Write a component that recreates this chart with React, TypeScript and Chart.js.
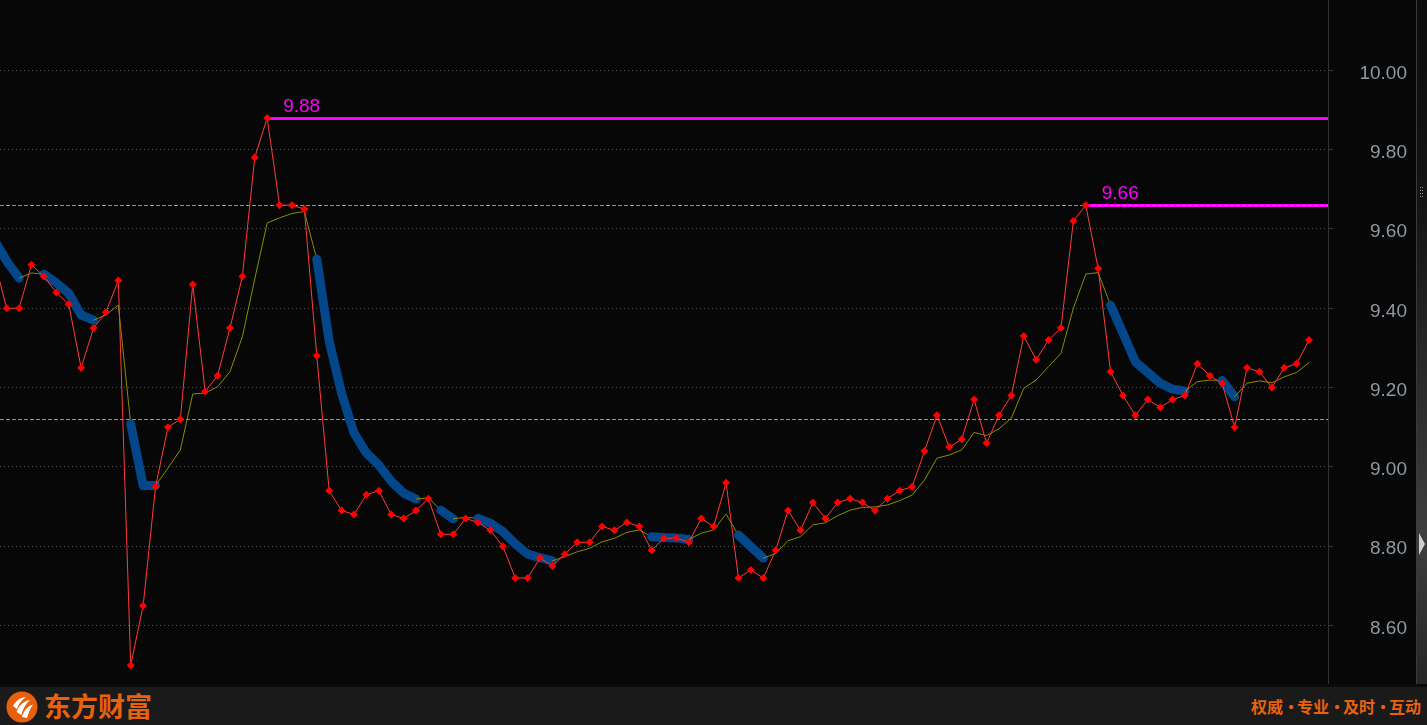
import React, { useEffect, useRef } from 'react';
import { Chart, registerables } from 'chart.js';

Chart.register(...registerables);

// index of the first value (one session lies just off the left edge)
const FIRST_INDEX = -1;

// red series (price with diamond markers)
const closeValues = [
  9.52, 9.40, 9.40, 9.51, 9.48, 9.44, 9.41, 9.25, 9.35, 9.39,
  9.47, 8.50, 8.65, 8.95, 9.10, 9.12, 9.46, 9.19, 9.23, 9.35,
  9.48, 9.78, 9.88, 9.66, 9.66, 9.65, 9.28, 8.94, 8.89, 8.88,
  8.93, 8.94, 8.88, 8.87, 8.89, 8.92, 8.83, 8.83, 8.87, 8.86,
  8.84, 8.80, 8.72, 8.72, 8.77, 8.75, 8.78, 8.81, 8.81, 8.85,
  8.84, 8.86, 8.85, 8.79, 8.82, 8.82, 8.81, 8.87, 8.85, 8.96,
  8.72, 8.74, 8.72, 8.79, 8.89, 8.84, 8.91, 8.87, 8.91, 8.92,
  8.91, 8.89, 8.92, 8.94, 8.95, 9.04, 9.13, 9.05, 9.07, 9.17,
  9.06, 9.13, 9.18, 9.33, 9.27, 9.32, 9.35, 9.62, 9.66, 9.50,
  9.24, 9.18, 9.13, 9.17, 9.15, 9.17, 9.18, 9.26, 9.23, 9.21,
  9.10, 9.25, 9.24, 9.20, 9.25, 9.26, 9.32,
];

// average line (thin olive when rising, thick blue while falling)
const avgValues = [
  9.572, 9.519, 9.476, 9.489, 9.486, 9.464, 9.438, 9.383, 9.370, 9.383,
  9.408, 9.108, 8.953, 8.953, 8.997, 9.043, 9.184, 9.186, 9.202, 9.240,
  9.328, 9.474, 9.615, 9.628, 9.639, 9.644, 9.524, 9.317, 9.186, 9.086,
  9.035, 9.005, 8.964, 8.934, 8.919, 8.922, 8.891, 8.869, 8.873, 8.870,
  8.858, 8.837, 8.806, 8.780, 8.771, 8.763, 8.774, 8.786, 8.795, 8.811,
  8.820, 8.835, 8.841, 8.824, 8.822, 8.821, 8.817, 8.833, 8.841, 8.881,
  8.828, 8.799, 8.770, 8.782, 8.814, 8.824, 8.854, 8.859, 8.877, 8.891,
  8.898, 8.899, 8.904, 8.915, 8.929, 8.967, 9.022, 9.030, 9.043, 9.087,
  9.079, 9.096, 9.123, 9.198, 9.219, 9.253, 9.286, 9.400, 9.486, 9.490,
  9.408, 9.337, 9.265, 9.238, 9.211, 9.196, 9.191, 9.215, 9.219, 9.218,
  9.177, 9.211, 9.217, 9.212, 9.227, 9.238, 9.263,
];

const tickValues = [10.0, 9.8, 9.6, 9.4, 9.2, 9.0, 8.8, 8.6];
const peakIndices = [21, 87];
const guideLevels = [9.66, 9.12];
const sloganParts = ['权威', '专业', '及时', '互动'];

const Y_MIN = 8.4526;
const Y_MAX = 10.1773;
const X_MIN = -0.54;
const X_MAX = 106.53;

const BLUE = '#03468a';
const OLIVE = '#8c8c00';
const ORANGE = '#e8620e';
const CYAN = '#2fb4f2';

function isFalling(i0: number, i1: number): boolean {
  const a = avgValues[i0];
  const b = avgValues[i1];
  const prev = i0 > 0 ? avgValues[i0 - 1] : Infinity;
  return b <= a && a < prev;
}

const guidePlugin = {
  id: 'guides',
  beforeDatasetsDraw(chart: any) {
    const { ctx, chartArea, scales } = chart;
    const xs = scales.x;
    const ys = scales.y;
    ctx.save();
    ctx.beginPath();
    ctx.rect(chartArea.left, chartArea.top, chartArea.right - chartArea.left, chartArea.bottom - chartArea.top);
    ctx.clip();
    for (const idx of peakIndices) {
      const v = closeValues[idx - FIRST_INDEX];
      const px = xs.getPixelForValue(idx);
      const py = Math.round(ys.getPixelForValue(v));
      ctx.setLineDash([]);
      ctx.strokeStyle = '#ff00ff';
      ctx.lineWidth = 3;
      ctx.beginPath();
      ctx.moveTo(px, py + 0.5);
      ctx.lineTo(chartArea.right, py + 0.5);
      ctx.stroke();
      ctx.fillStyle = '#ff00ff';
      ctx.font = '19px "Liberation Sans", Arial, sans-serif';
      ctx.textAlign = 'left';
      ctx.textBaseline = 'alphabetic';
      ctx.fillText(v.toFixed(2), px + 16, py - 6);
    }
    for (const v of guideLevels) {
      const py = Math.round(ys.getPixelForValue(v)) + 0.5;
      ctx.setLineDash([4, 2]);
      ctx.strokeStyle = CYAN;
      ctx.lineWidth = 1;
      ctx.beginPath();
      ctx.moveTo(chartArea.left, py);
      ctx.lineTo(chartArea.right, py);
      ctx.stroke();
    }
    ctx.restore();
  },
};

function Logo() {
  return (
    <svg width="32" height="32" viewBox="0 0 32 32" style={{ position: 'absolute', left: 6, top: 4 }}>
      <circle cx="16" cy="16" r="15.5" fill="#e8600c" />
      <path d="M7 15 C 10 9, 15 6.5, 20 6 C 16 9, 13 12, 11 18 Z" fill="#fff" />
      <path d="M10.5 21 C 13 14, 18 10, 24 9 C 20 13, 17 17, 15.5 24 Z" fill="#fff" />
      <path d="M16 26 C 18 19, 22 15, 27 13.5 C 24 18, 22.5 22, 21 27 Z" fill="#fff" />
    </svg>
  );
}

export default function App() {
  const canvasRef = useRef<HTMLCanvasElement | null>(null);

  useEffect(() => {
    const canvas = canvasRef.current;
    if (!canvas) return;
    const closeData = closeValues.map((v, k) => ({ x: k + FIRST_INDEX, y: v }));
    const avgData = avgValues.map((v, k) => ({ x: k + FIRST_INDEX, y: v }));
    const chart = new Chart(canvas, {
      type: 'line',
      data: {
        datasets: [
          {
            label: 'close',
            data: closeData,
            borderColor: '#ff3c3c',
            borderWidth: 1,
            pointStyle: 'rectRot',
            pointRadius: 4,
            pointBackgroundColor: '#ff0000',
            pointBorderWidth: 0,
            tension: 0,
          },
          {
            label: 'avg',
            data: avgData,
            borderColor: OLIVE,
            borderWidth: 1,
            borderCapStyle: 'round',
            borderJoinStyle: 'round',
            pointRadius: 0,
            tension: 0,
            segment: {
              borderColor: (c: any) => (isFalling(c.p0DataIndex, c.p1DataIndex) ? BLUE : OLIVE),
              borderWidth: (c: any) => (isFalling(c.p0DataIndex, c.p1DataIndex) ? 9 : 1),
            },
          },
        ],
      } as any,
      options: {
        animation: false,
        responsive: false,
        events: [],
        layout: { autoPadding: false, padding: { left: 0, right: 9, top: 0, bottom: 0 } },
        plugins: { legend: { display: false }, tooltip: { enabled: false } },
        scales: {
          x: { type: 'linear', min: X_MIN, max: X_MAX, display: false },
          y: {
            type: 'linear',
            position: 'right',
            min: Y_MIN,
            max: Y_MAX,
            afterBuildTicks: (scale: any) => {
              scale.ticks = tickValues.map((value) => ({ value }));
            },
            afterFit: (scale: any) => {
              scale.width = 79;
              scale.paddingTop = 0;
              scale.paddingBottom = 0;
            },
            ticks: {
              callback: (v: any) => Number(v).toFixed(2),
              color: '#9098a0',
              font: { family: '"Liberation Sans", Arial, sans-serif', size: 19 },
              crossAlign: 'far',
              labelOffset: 3,
            },
            grid: {
              color: '#555555',
              lineWidth: 1,
              drawTicks: true,
              tickLength: 5,
              tickColor: '#333333',
            },
            border: { display: true, color: '#333333', width: 1, dash: [1, 3] },
          },
        },
      } as any,
      plugins: [guidePlugin],
    });
    return () => chart.destroy();
  }, []);

  return (
    <div style={{ position: 'fixed', left: 0, top: 0, width: 1427, height: 725, background: '#070707', overflow: 'hidden' }}>
      <canvas ref={canvasRef} width={1416} height={684} style={{ position: 'absolute', left: 0, top: 0, width: 1416, height: 684, display: 'block' }} />
      <div style={{ position: 'absolute', left: 1416, top: 0, width: 11, height: 684, boxSizing: 'border-box', borderLeft: '1px solid #3a3a3a', background: 'linear-gradient(to bottom, #0c0c0c 0%, #141414 30%, #2e2e2e 60%, #3e3e3e 78%, #262626 100%)' }}>
        {[0, 1, 2, 3].map((r) => (
          [0, 1].map((c) => (
            <span key={`${r}-${c}`} style={{ position: 'absolute', left: 3 + c * 2, top: 187 + r * 3, width: 1, height: 1, background: '#8a8a8a' }} />
          ))
        ))}
        <span style={{ position: 'absolute', left: 2, top: 533, width: 0, height: 0, borderTop: '11px solid transparent', borderBottom: '11px solid transparent', borderLeft: '6px solid #cfcfcf' }} />
      </div>
      <div style={{ position: 'absolute', left: 0, top: 684, width: 1427, height: 41, boxSizing: 'border-box', borderTop: '3px solid #0b0b0b', background: '#1a1a1a' }}>
        <Logo />
        <div style={{ position: 'absolute', left: 44, top: 1, height: 36, lineHeight: '36px', fontFamily: '"Noto Sans CJK SC", sans-serif', fontWeight: 700, fontSize: 27, color: ORANGE, whiteSpace: 'nowrap' }}>东方财富</div>
        <div style={{ position: 'absolute', right: 6, top: 1, height: 36, lineHeight: '36px', fontFamily: '"Noto Sans CJK SC", sans-serif', fontWeight: 700, fontSize: 16, color: ORANGE, whiteSpace: 'nowrap' }}>
          {sloganParts.map((p, i) => (
            <React.Fragment key={p}>
              {i > 0 && <span style={{ display: 'inline-block', width: 14, textAlign: 'center' }}>·</span>}
              {p}
            </React.Fragment>
          ))}
        </div>
      </div>
    </div>
  );
}
